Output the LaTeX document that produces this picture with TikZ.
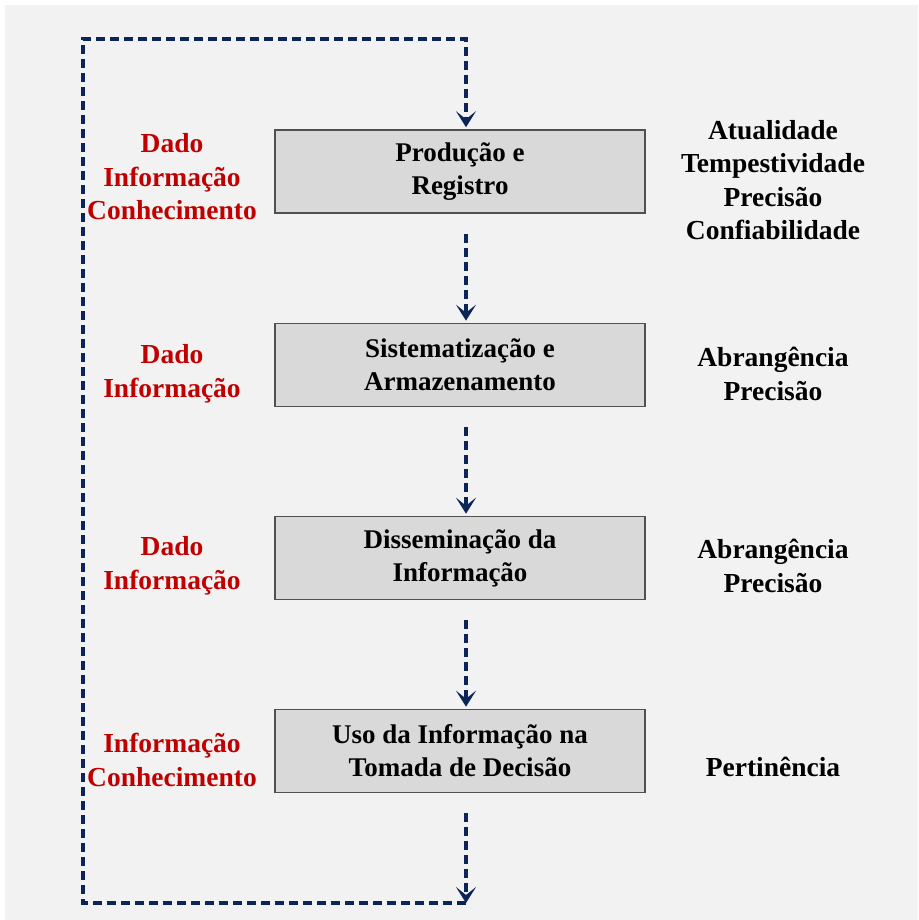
\documentclass[tikz,border=0pt]{standalone}
\usepackage{fontspec}
\setmainfont{Liberation Serif}
\usetikzlibrary{arrows.meta}
\definecolor{pagebg}{HTML}{F2F2F2}
\definecolor{boxfill}{HTML}{D9D9D9}
\definecolor{boxline}{HTML}{505050}
\definecolor{navy}{HTML}{0B2559}
\definecolor{darkred}{HTML}{C00000}
\tikzset{
  stage/.style={draw=boxline, line width=1.6pt, fill=boxfill, minimum width=370pt,
    minimum height=83pt, align=center, font=\fontsize{27}{33}\selectfont\bfseries},
  kind/.style={text=darkred, align=center, font=\fontsize{27.5}{33.5}\selectfont\bfseries},
  quality/.style={text=black, align=center, font=\fontsize{27.5}{33.5}\selectfont\bfseries},
  flowline/.style={draw=navy, line width=3.4pt, dash pattern=on 9pt off 5pt, line join=miter,
    -{Stealth[length=16pt,width=20pt,inset=8pt]}},
  flow/.style={flowline, shorten <=20pt, shorten >=2pt},
}
\begin{document}
\begin{tikzpicture}[x=1pt,y=-1pt]
  % page and background panel
  \fill[white] (0,0) rectangle (918,920);
  \fill[pagebg] (5,5) rectangle (918,920);
  \useasboundingbox (0,0) rectangle (918,920);

  % process stages
  \node[stage] (b1) at (460,171.5) {Produção e\\Registro};
  \node[stage] (b2) at (460,365) {Sistematização e\\Armazenamento};
  \node[stage] (b3) at (460,558) {Disseminação da\\Informação};
  \node[stage] (b4) at (460,751) {Uso da Informação na\\Tomada de Decisão};

  % what each stage handles
  \node[kind] (k1) at (172,177) {Dado\\Informação\\Conhecimento};
  \node[kind] (k2) at (172,374) {Dado\\Informação};
  \node[kind] (k3) at (172,566) {Dado\\Informação};
  \node[kind] (k4) at (172,760) {Informação\\Conhecimento};

  % quality attributes required at each stage
  \node[quality] (q1) at (773,180) {Atualidade\\Tempestividade\\Precisão\\Confiabilidade};
  \node[quality] (q2) at (773,374) {Abrangência\\Precisão};
  \node[quality] (q3) at (773,566) {Abrangência\\Precisão};
  \node[quality] (q4) at (773,767) {Pertinência};

  % flow between stages
  \draw[flow] ([xshift=6pt]b1.south) -- ([xshift=6pt]b2.north);
  \draw[flow] ([xshift=6pt]b2.south) -- ([xshift=6pt]b3.north);
  \draw[flow] ([xshift=6pt]b3.south) -- ([xshift=6pt]b4.north);

  % feedback loop back to the first stage
  \coordinate (lb) at (466,903);
  \coordinate (ll) at (83,903);
  \coordinate (lt) at (83,39);
  \coordinate (rt) at (466,39);
  \draw[flowline, shorten <=20pt] ([xshift=6pt]b4.south) -- (lb);
  \draw[flowline, shorten >=2pt] (lb) -- (ll) -- (lt) -- (rt) -- ([xshift=6pt]b1.north);
\end{tikzpicture}
\end{document}
